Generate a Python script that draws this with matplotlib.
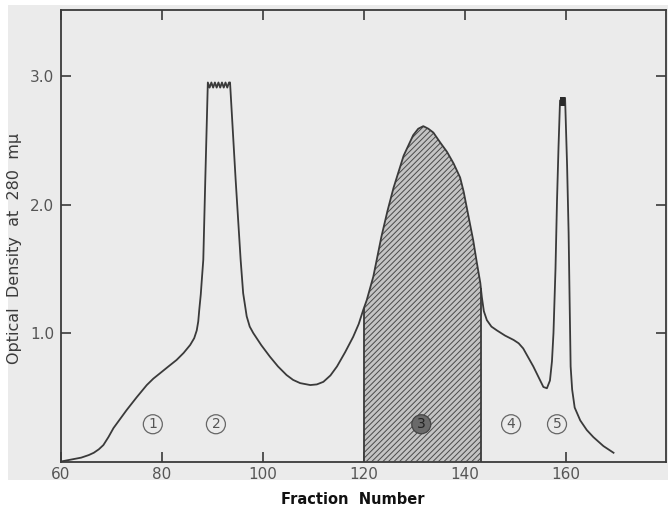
import matplotlib
matplotlib.use("Agg")
import matplotlib.pyplot as plt
from matplotlib.patches import Rectangle
import numpy as np

# ---- data ----
fraction = [60, 62, 64, 65.5, 66.5, 67.5, 68.4, 69.4, 70.4, 71.7, 73.0, 75.0, 77.0, 78.3, 79.6,
            81.3, 82.9, 84.3, 85.6, 86.4, 86.9, 87.2, 87.4, 87.7, 87.9, 88.2, 88.6,
            89.1, 89.45, 89.8, 90.15, 90.5, 90.85, 91.2, 91.55, 91.9, 92.25, 92.6, 92.95, 93.3, 93.5,
            94.6, 95.6, 96.1, 96.8, 97.4, 98.1, 99.7, 101.4, 103.0, 104.7, 106.0, 107.4, 109.4,
            110.7, 112.0, 113.4, 114.7, 116.3, 117.9, 119.0, 119.9, 120.6, 121.9, 123.5, 124.7,
            125.9, 127.9, 129.8, 130.8, 131.8, 132.8, 133.8, 135.2, 136.5, 137.8, 139.1, 139.8,
            140.4, 141.1, 141.7, 142.4, 143.1, 143.4, 143.8, 144.4, 145.3, 146.4, 148.0, 149.7,
            150.7, 151.6, 152.6, 153.6, 154.6, 155.6, 156.3, 156.9, 157.3, 157.6, 158.0, 158.3,
            158.6, 158.9, 159.9, 160.3, 160.6, 160.8, 161.0, 161.3, 161.8, 162.9, 164.2, 165.5,
            167.5, 169.5]
od = [0.0, 0.015, 0.03, 0.05, 0.068, 0.095, 0.128, 0.19, 0.26, 0.33, 0.40, 0.50, 0.595, 0.645, 0.686,
      0.74, 0.79, 0.845, 0.907, 0.96, 1.02, 1.09, 1.18, 1.30, 1.41, 1.57, 2.20,
      2.95, 2.91, 2.95, 2.91, 2.95, 2.91, 2.95, 2.91, 2.95, 2.91, 2.95, 2.91, 2.95, 2.95,
      2.20, 1.57, 1.31, 1.13, 1.05, 1.0, 0.905, 0.816, 0.74, 0.673, 0.635, 0.61, 0.595,
      0.60, 0.62, 0.67, 0.74, 0.85, 0.97, 1.07, 1.18, 1.257, 1.44, 1.75, 1.95,
      2.13, 2.38, 2.54, 2.59, 2.61, 2.59, 2.56, 2.48, 2.41, 2.32, 2.21, 2.10,
      1.98, 1.84, 1.72, 1.55, 1.39, 1.28, 1.17, 1.10, 1.05, 1.02, 0.98, 0.946,
      0.92, 0.88, 0.81, 0.74, 0.66, 0.58, 0.57, 0.63, 0.78, 1.0, 1.5, 2.03,
      2.45, 2.81, 2.83, 2.30, 1.78, 1.25, 0.74, 0.56, 0.42, 0.32, 0.245, 0.19,
      0.12, 0.068]

shade_range = [120.0, 143.2]          # hatched pooled fractions (peak 3)
cap_x = [158.8, 159.9]                 # dark cap on top of peak 5
cap_y = [2.77, 2.84]

peak_labels = ["1", "2", "3", "4", "5"]
peak_x = [78.2, 90.7, 131.4, 149.2, 158.3]
peak_y = [0.29, 0.29, 0.29, 0.29, 0.29]

xticks = [60, 80, 100, 120, 140, 160]
xtick_labels = ["60", "80", "100", "120", "140", "160"]
yticks = [1.0, 2.0, 3.0]
ytick_labels = ["1.0", "2.0", "3.0"]

# ---- figure ----
plt.rcParams['font.family'] = ['DejaVu Sans']
plt.rcParams['hatch.linewidth'] = 0.7
plt.rcParams['hatch.color'] = '#4a4a4a'

W, H = 668, 513
fig = plt.figure(figsize=(W / 100, H / 100), dpi=100, facecolor='white')
bg = '#ebebeb'
fig.patches.append(Rectangle((8 / W, 1 - 480 / H), 1, (480 - 5) / H,
                             transform=fig.transFigure, facecolor=bg, edgecolor='none', zorder=-10))

ax = fig.add_axes([61 / W, 1 - 461.5 / H, 605 / W, (461.5 - 10) / H])
ax.set_facecolor(bg)
ax.set_xlim(60, 179.9)
ax.set_ylim(0, 3.514)

line_c = '#3a3a3a'
x = np.array(fraction)
y = np.array(od)
ax.plot(x, y, color=line_c, lw=1.3, zorder=3, solid_joinstyle='round')

mask = (x >= shade_range[0]) & (x <= shade_range[1])
xs = np.concatenate([[shade_range[0]], x[mask], [shade_range[1]]])
ys = np.interp(xs, x, y)
ax.fill_between(xs, 0, ys, facecolor='#c4c4c4', edgecolor='#4a4a4a', hatch='//////', linewidth=0, zorder=2)
ax.vlines(shade_range, 0, np.interp(shade_range, x, y), color=line_c, lw=1.3, zorder=3)

ax.fill_between(cap_x, cap_y[0], cap_y[1], color='#2a2a2a', zorder=4, linewidth=0)

for lab, px, py in zip(peak_labels, peak_x, peak_y):
    dark = lab == "3"
    ax.text(px, py, lab, ha='center', va='center', fontsize=10,
            color='#222222' if dark else '#555555', zorder=5,
            bbox=dict(boxstyle='circle,pad=0.18', facecolor='#6a6a6a' if dark else bg,
                      edgecolor='#444444' if dark else '#666666', lw=0.9))

for s in ax.spines.values():
    s.set_color('#3a3a3a')
    s.set_linewidth(1.3)

ax.set_xticks(xticks)
ax.set_xticklabels(xtick_labels)
ax.set_yticks(yticks)
ax.set_yticklabels(ytick_labels)
ax.tick_params(axis='both', direction='in', length=7.2, width=1.2, color='#3a3a3a',
               labelsize=11, labelcolor='#555555', top=True, right=True)
ax.tick_params(axis='x', pad=4)
ax.tick_params(axis='y', pad=5)

fig.text(15 / W, 1 - 248 / H, "Optical  Density  at  280  mμ", rotation=90,
         ha='center', va='center', fontsize=11.5, color='#3a3a3a')
fig.text(353 / W, 1 - 500 / H, "Fraction  Number", ha='center', va='center',
         fontsize=10.5, fontweight='bold', color='#111111')

fig.savefig("out.png", dpi=100, facecolor='white')
